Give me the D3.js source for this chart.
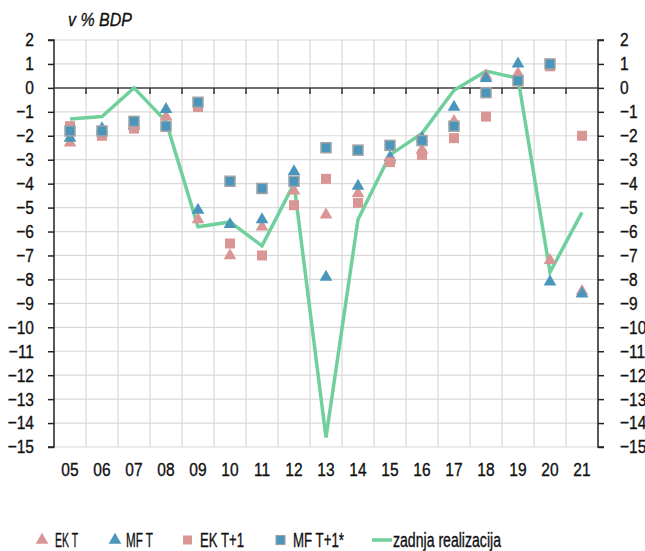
<!DOCTYPE html>
<html>
<head>
<meta charset="utf-8">
<script src="https://cdn.jsdelivr.net/npm/d3@7"></script>
<style>
  html, body { margin: 0; padding: 0; background: #fff; }
  svg text { font-family: "Liberation Sans", Arial, sans-serif; fill: #111; stroke: #111; stroke-width: 0.35px; }
</style>
</head>
<body>
<svg id="chart" width="645" height="551"></svg>
<script>
// Years (two-digit labels)
const years = ["05","06","07","08","09","10","11","12","13","14","15","16","17","18","19","20","21"];

// Forecasts of the general government balance, % of GDP
const ekT    = [-2.3, -1.8, -1.5, -1.2, -5.5, -7.0, -5.8, -4.3, -5.3, -4.4, -3.0, -2.6, -1.4, 0.5, 0.6, -7.2, -8.5];
const mfT    = [-2.1, -1.7, -1.6, -0.9, -5.1, -5.7, -5.5, -3.5, -7.9, -4.1, -2.9, -2.1, -0.8, 0.4, 1.0, -8.1, -8.6];
const ekT1   = [-1.6, -2.0, -1.7, -1.6, -0.8, -6.5, -7.0, -4.9, -3.8, -4.8, -3.1, -2.8, -2.1, -1.2, 0.3, 0.9, -2.0];
const mfT1   = [-1.8, -1.8, -1.4, -1.6, -0.6, -3.9, -4.2, -3.9, -2.5, -2.6, -2.4, -2.2, -1.6, -0.2, 0.3, 1.0, null];
// Latest outturn
const actual = [-1.3, -1.2, 0.0, -1.4, -5.8, -5.6, -6.6, -4.0, -14.6, -5.5, -2.8, -1.9, -0.1, 0.7, 0.4, -7.7, -5.2];

const yTicks = d3.range(-15, 3);
const legendLabels = ["EK T", "MF T", "EK T+1", "MF T+1*", "zadnja realizacija"];

const C_PINK = "#d99694", C_BLUE = "#4a96ba", C_GREEN = "#70d09c", C_GRID = "#d9d9d9";
const SX = 0.84; // horizontal squeeze for the narrow lettering

const svg = d3.select("#chart");
const plotL = 54, plotR = 598, plotT = 40, plotB = 447;

const x = d3.scaleBand().domain(years).range([plotL, plotR]);
const y = d3.scaleLinear().domain([-15, 2]).range([plotB, plotT]);

// Squeeze text horizontally while keeping its anchor point in place
function condense(sel) {
  sel.each(function () {
    const t = d3.select(this);
    const x0 = +t.attr("x") || 0;
    t.attr("x", x0 / SX).attr("transform", `scale(${SX},1)`);
  });
}

// Grid
const grid = svg.append("g");
grid.selectAll("line.h").data(yTicks).join("line")
  .attr("x1", plotL).attr("x2", plotR)
  .attr("y1", d => y(d)).attr("y2", d => y(d))
  .attr("stroke", C_GRID).attr("stroke-width", 1.2);
grid.selectAll("line.v").data(years.slice(1)).join("line")
  .attr("x1", d => x(d)).attr("x2", d => x(d))
  .attr("y1", plotT).attr("y2", plotB)
  .attr("stroke", C_GRID).attr("stroke-width", 1.2);

// Value axes on both sides
const axL = svg.append("g").attr("transform", `translate(${plotL},0)`)
  .call(d3.axisLeft(y).tickValues(yTicks).tickSize(6).tickPadding(14).tickFormat(d3.format("d")));
const axR = svg.append("g").attr("transform", `translate(${plotR},0)`)
  .call(d3.axisRight(y).tickValues(yTicks).tickSize(6).tickPadding(16).tickFormat(d3.format("d")));
[axL, axR].forEach(a => {
  a.select(".domain").attr("stroke", "#222").attr("stroke-width", 1.5);
  a.selectAll(".tick line").attr("stroke", "#222").attr("stroke-width", 1.5);
  a.selectAll(".tick text").attr("font-size", 18.5).attr("fill", "#111")
    .style("font-family", "'Liberation Sans', Arial, sans-serif")
    .call(condense);
});
axL.select(".domain").attr("d", `M-6,${plotT}H0V${plotB}H-6`);
axR.select(".domain").attr("d", `M6,${plotT}H0V${plotB}H6`);

// Zero line with category boundary ticks
const zero = svg.append("g").attr("transform", `translate(0,${y(0)})`);
zero.append("line").attr("x1", plotL).attr("x2", plotR).attr("stroke", "#444").attr("stroke-width", 1.5);
zero.selectAll("line.t").data(years.slice(1)).join("line")
  .attr("x1", d => x(d)).attr("x2", d => x(d)).attr("y1", 0).attr("y2", 6)
  .attr("stroke", "#333").attr("stroke-width", 1.5);

// Category labels along the bottom
svg.append("g").selectAll("text").data(years).join("text")
  .attr("x", d => x(d) + x.bandwidth() / 2).attr("y", 476)
  .attr("text-anchor", "middle").attr("font-size", 18.5).text(d => d)
  .call(condense);

// Title
svg.append("text").attr("x", 68).attr("y", 26).attr("font-size", 19)
  .attr("font-style", "italic").text("v % BDP").call(condense);

const cx = (i) => x(years[i]) + x.bandwidth() / 2;
const tri = d3.symbol().type(d3.symbolTriangle).size(70);

// Latest outturn line
const line = d3.line().x((d, i) => cx(i)).y(d => y(d));
svg.append("path").datum(actual).attr("d", line)
  .attr("fill", "none").attr("stroke", C_GREEN).attr("stroke-width", 3.5)
  .attr("stroke-linejoin", "miter");

// Markers
function triangles(data, color) {
  svg.append("g").selectAll("path").data(data.map((v, i) => [v, i]).filter(d => d[0] != null)).join("path")
    .attr("d", tri)
    .attr("transform", d => `translate(${cx(d[1])},${y(d[0])})`)
    .attr("fill", color);
}
function squares(data, color, border) {
  svg.append("g").selectAll("rect").data(data.map((v, i) => [v, i]).filter(d => d[0] != null)).join("rect")
    .attr("x", d => cx(d[1]) - 5).attr("y", d => y(d[0]) - 5)
    .attr("width", 10).attr("height", 10)
    .attr("fill", color)
    .attr("stroke", border || "none").attr("stroke-width", border ? 1.5 : 0);
}
triangles(ekT, C_PINK);
triangles(mfT, C_BLUE);
squares(ekT1, C_PINK);
squares(mfT1, C_BLUE, "#a3a3a3");

// Legend
const lg = svg.append("g");
const ly = 540;
lg.append("path").attr("d", tri).attr("transform", `translate(42,${ly})`).attr("fill", C_PINK);
lg.append("path").attr("d", tri).attr("transform", `translate(115,${ly})`).attr("fill", C_BLUE);
lg.append("rect").attr("x", 183).attr("y", ly - 4.5).attr("width", 9).attr("height", 9).attr("fill", C_PINK);
lg.append("rect").attr("x", 276).attr("y", ly - 4.5).attr("width", 9).attr("height", 9).attr("fill", C_BLUE)
  .attr("stroke", "#a3a3a3").attr("stroke-width", 1.2);
lg.append("line").attr("x1", 372).attr("x2", 392).attr("y1", ly).attr("y2", ly)
  .attr("stroke", C_GREEN).attr("stroke-width", 3.5);
const lx = [55, 126, 200, 293, 393];
const lw = [23, 27, 44, 51, 108];
lg.selectAll("text").data(legendLabels).join("text")
  .attr("x", (d, i) => lx[i]).attr("y", 547).attr("font-size", 20)
  .attr("textLength", (d, i) => lw[i]).attr("lengthAdjust", "spacingAndGlyphs")
  .text(d => d);
</script>
</body>
</html>
